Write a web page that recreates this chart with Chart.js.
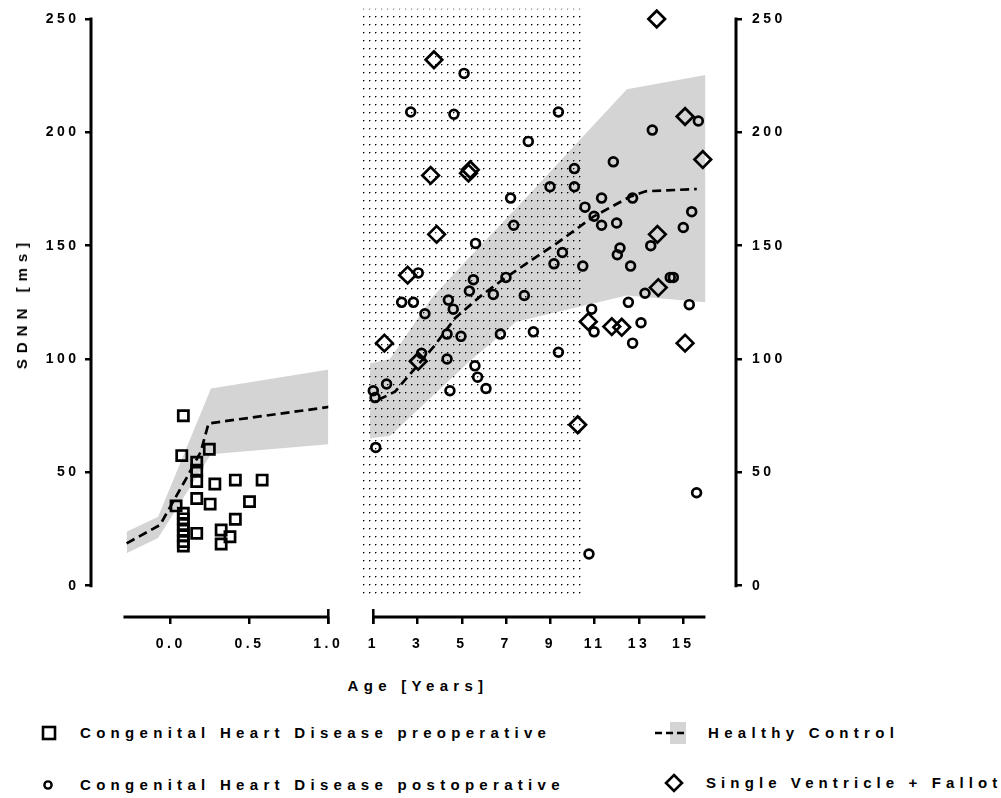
<!DOCTYPE html>
<html lang="en">
<head>
<meta charset="UTF-8">
<title>SDNN by age</title>
<script src="https://cdn.jsdelivr.net/npm/chart.js"></script>
<style>
  body { margin: 0; background: #fff; }
  #page { position: relative; width: 1001px; height: 798px; overflow: hidden;
          font-family: "Liberation Sans", Arial, sans-serif; font-weight: bold; color: #000; }
  .box { position: absolute; top: 0; height: 657px; }
  .txt { position: absolute; font-size: 15px; letter-spacing: 5.3px; white-space: nowrap; line-height: 16px; }
  .mk { position: absolute; }
</style>
</head>
<body>
<div id="page">
  <div class="box" style="left:0;width:380px"><canvas id="infantChart"></canvas></div>
  <div class="box" style="left:345px;width:656px"><canvas id="childChart"></canvas></div>

  <div class="txt" style="left:22px;top:303px;letter-spacing:6px;transform:translate(-50%,-50%) rotate(-90deg)">SDNN [ms]</div>
  <div class="txt" style="left:418px;top:686px;transform:translate(-50%,-50%)">Age [Years]</div>

  <!-- legend -->
  <svg class="mk" style="left:41px;top:725px" width="16" height="16"><rect x="2" y="2" width="12" height="12" fill="none" stroke="#000" stroke-width="2.6"/></svg>
  <div class="txt" style="left:80px;top:725px">Congenital Heart Disease preoperative</div>
  <svg class="mk" style="left:42px;top:779px" width="12" height="12"><circle cx="6" cy="6" r="3.6" fill="none" stroke="#000" stroke-width="2.4"/></svg>
  <div class="txt" style="left:80px;top:777px">Congenital Heart Disease postoperative</div>
  <svg class="mk" style="left:654px;top:721px" width="34" height="24"><rect x="16" y="1" width="16" height="22" fill="#d4d4d4"/><line x1="1" y1="12" x2="32" y2="12" stroke="#000" stroke-width="2.6" stroke-dasharray="7 4"/></svg>
  <div class="txt" style="left:708px;top:725px">Healthy Control</div>
  <svg class="mk" style="left:664px;top:773px" width="20" height="20"><path d="M10 2 L18 10 L10 18 L2 10 Z" fill="none" stroke="#000" stroke-width="2.6"/></svg>
  <div class="txt" style="left:706px;top:775px;letter-spacing:5.1px">Single Ventricle + Fallot</div>
</div>

<script>
// ---- data (age in years, SDNN in ms) ----
const preOpAge  = [0.08, 0.07, 0.165, 0.165, 0.165, 0.245, 0.28, 0.41, 0.58, 0.50, 0.25, 0.165, 0.034,
                   0.08, 0.08, 0.08, 0.08, 0.08, 0.08, 0.08, 0.165, 0.41, 0.32, 0.376, 0.32];
const preOpSdnn = [75, 57.4, 54.5, 51, 46, 60.2, 44.9, 46.6, 46.6, 37.1, 36, 38.5, 35.2,
                   32, 29.5, 27, 24.5, 22, 19.5, 17.5, 23.1, 29.3, 24.6, 21.6, 18.4];

const postOpAge  = [5.10, 2.69, 4.64, 8.00, 9.36, 15.68, 13.60, 11.84, 10.08, 8.98, 10.08, 7.20, 11.31,
                    12.71, 10.56, 10.97, 11.31, 11.99, 7.34, 15.38, 15.00, 13.53, 12.14, 12.02, 12.62,
                    9.54, 9.16, 10.46, 5.62, 14.41, 14.55, 13.27, 12.52, 15.27, 10.86, 10.97, 13.09,
                    12.71, 9.36, 15.60, 10.74, 3.03, 5.52, 5.34, 6.99, 6.42, 7.82, 4.39, 2.28, 2.81,
                    3.33, 4.61, 4.33, 4.96, 6.74, 8.23, 4.33, 5.59, 5.71, 6.09, 4.46, 1.60, 1.00,
                    1.08, 1.11, 3.18];
const postOpSdnn = [226, 209, 208, 196, 209, 205, 201, 187, 184, 176, 176, 171, 171,
                    171, 167, 163, 159, 160, 159, 165, 158, 150, 149, 146, 141,
                    147, 142, 141, 151, 136, 136, 129, 125, 124, 122, 112, 116,
                    107, 103, 41, 14, 138, 135, 130, 136, 128.5, 128, 126, 125, 125,
                    120, 122, 111, 110, 111, 112, 100, 97, 92, 87, 86, 89, 86,
                    83, 61, 102.5];

const svfAge  = [3.74, 3.59, 5.30, 5.38, 3.86, 2.55, 1.50, 3.03, 13.80, 15.08, 15.88, 13.83, 13.87,
                 10.71, 11.77, 12.22, 15.08, 10.23];
const svfSdnn = [232, 181, 182, 183.5, 155, 137, 107, 99, 250, 207, 188, 155, 131.5,
                 116.5, 114.3, 114, 107, 71];

// healthy control: mean (dashed) and range (grey band)
const infantBandAge  = [-0.28, -0.08, 0.255, 1.02];
const infantBandHigh = [23.8, 30.4, 87, 95.6];
const infantBandLow  = [14.3, 21, 58, 62.5];
const infantMeanAge  = [-0.28, -0.068, 0.10, 0.19, 0.24, 1.02];
const infantMeanSdnn = [18.7, 26.8, 47.5, 59, 71.6, 79];

const childBandAge  = [0.85, 1.75, 3.65, 5.35, 7.45, 8.55, 12.45, 16.0];
const childBandHigh = [98, 100, 127, 145, 166.5, 178, 219, 225.3];
const childBandLow  = [65, 66, 83.5, 99, 116.5, 119, 128, 125];
const childMeanAge  = [1.23, 1.98, 3.79, 4.69, 5.9, 7.03, 9.28, 10.94, 12.59, 13.3, 15.61];
const childMeanSdnn = [82, 85.6, 106.2, 118, 128.2, 136.3, 151, 162.8, 171.6, 174, 175];

// dotted age window
const shadedAge  = [0.45, 10.42];
const shadedSdnn = [-4.5, 254.5];

// axes
const sdnnTicks   = [0, 50, 100, 150, 200, 250];
const infantTicks = [0, 0.5, 1.0];
const childTicks  = [1, 3, 5, 7, 9, 11, 13, 15];
const infantAxis  = [-0.3, 1.0];
const childAxis   = [1, 16];

// ---- setup ----
Chart.defaults.font.family = '"Liberation Sans", Arial, sans-serif';
Chart.defaults.font.weight = 'bold';
Chart.defaults.font.size = 14;
Chart.defaults.color = '#000';

const pts = (xs, ys) => xs.map((x, i) => ({ x, y: ys[i] }));
const GREY = 'rgba(0,0,0,0.17)';

function dotPattern() {
    const c = document.createElement('canvas');
    c.width = 6; c.height = 8;
    const g = c.getContext('2d');
    g.fillStyle = '#000';
    g.fillRect(0, 0, 1, 1);
    g.fillStyle = 'rgba(0,0,0,0.4)';
    g.fillRect(1, 0, 1, 1);
    g.fillRect(0, 1, 1, 1);
    return g.createPattern(c, 'repeat');
}

// wide letter spacing as in the original figure
const spacing = {
    id: 'spacing',
    beforeLayout(chart) { chart.ctx.letterSpacing = '3.5px'; },
    beforeDraw(chart) { chart.ctx.letterSpacing = '3.5px'; }
};

// dotted window behind the data
const shaded = {
    id: 'shaded',
    beforeDatasetsDraw(chart, args, opts) {
        if (!opts.on) return;
        const { ctx, scales: { x, y } } = chart;
        const x0 = x.getPixelForValue(shadedAge[0]), x1 = x.getPixelForValue(shadedAge[1]);
        const y0 = y.getPixelForValue(shadedSdnn[1]), y1 = y.getPixelForValue(shadedSdnn[0]);
        ctx.save();
        ctx.fillStyle = dotPattern();
        ctx.fillRect(x0, y0, x1 - x0, y1 - y0);
        ctx.restore();
    }
};

// offset axis lines (GraphPad style)
const axisLines = {
    id: 'axisLines',
    afterDraw(chart, args, opts) {
        const { ctx, chartArea, scales: { x, y } } = chart;
        ctx.save();
        ctx.strokeStyle = '#000';
        ctx.lineWidth = 3;
        const yx = opts.side === 'left' ? chartArea.left : chartArea.right;
        ctx.beginPath();
        ctx.moveTo(yx, y.getPixelForValue(0) + 1.5);
        ctx.lineTo(yx, y.getPixelForValue(250) - 1.5);
        ctx.stroke();
        const b = chartArea.bottom;
        ctx.beginPath();
        ctx.moveTo(x.getPixelForValue(opts.from), b);
        ctx.lineTo(x.getPixelForValue(opts.to), b);
        ctx.stroke();
        ctx.lineWidth = 2.5;
        const cx = x.getPixelForValue(opts.cap);
        ctx.beginPath();
        ctx.moveTo(cx, b - 8);
        ctx.lineTo(cx, b + 7);
        ctx.stroke();
        ctx.restore();
    }
};

function axisX(min, max, ticks, fmt) {
    return {
        type: 'linear', min, max, bounds: 'data',
        afterBuildTicks: s => { s.ticks = ticks.map(v => ({ value: v })); },
        afterFit: s => { s.height = 40; },
        ticks: { callback: fmt, padding: 12, maxRotation: 0, autoSkip: false },
        grid: { drawOnChartArea: false, tickLength: 7, color: '#000', lineWidth: 2.5 },
        border: { display: false }
    };
}

function axisY(position, width) {
    return {
        type: 'linear', min: -13.8, max: 250, position, bounds: 'data',
        afterBuildTicks: s => { s.ticks = sdnnTicks.map(v => ({ value: v })); },
        afterFit: s => { s.width = width; },
        ticks: { padding: position === 'left' ? 5.5 : 10 },
        grid: { drawOnChartArea: false, tickLength: 6, color: '#000', lineWidth: 2.5 },
        border: { display: false }
    };
}

const marker = (style, r) => ({
    pointStyle: style, pointRadius: r, pointHoverRadius: r,
    pointBorderWidth: 2.7, pointBorderColor: '#000',
    pointBackgroundColor: 'rgba(0,0,0,0)', clip: false
});

const band = (xs, hi, lo) => ([
    { data: pts(xs, hi), showLine: true, pointRadius: 0, borderWidth: 0,
      borderColor: 'rgba(0,0,0,0)', backgroundColor: GREY, fill: '+1' },
    { data: pts(xs, lo), showLine: true, pointRadius: 0, borderWidth: 0,
      borderColor: 'rgba(0,0,0,0)', fill: false }
]);

const mean = (xs, ys) => ({
    data: pts(xs, ys), showLine: true, pointRadius: 0, borderWidth: 2.7,
    borderColor: '#000', borderDash: [9, 5], fill: false
});

new Chart(document.getElementById('infantChart'), {
    type: 'scatter',
    data: {
        datasets: [
            { data: pts(preOpAge, preOpSdnn), ...marker('rect', 7.2) },
            mean(infantMeanAge, infantMeanSdnn),
            ...band(infantBandAge, infantBandHigh, infantBandLow)
        ]
    },
    options: {
        responsive: true, maintainAspectRatio: false, animation: false, events: [],
        layout: { padding: { top: 19, right: 51.7, left: 0, bottom: 0 } },
        scales: {
            x: axisX(-0.506, 1.0, infantTicks, v => v.toFixed(1)),
            y: axisY('left', 91)
        },
        plugins: {
            legend: { display: false }, tooltip: { enabled: false },
            axisLines: { side: 'left', from: infantAxis[0], to: infantAxis[1], cap: infantAxis[1] },
            shaded: { on: false }
        }
    },
    plugins: [spacing, shaded, axisLines]
});

new Chart(document.getElementById('childChart'), {
    type: 'scatter',
    data: {
        datasets: [
            { data: pts(svfAge, svfSdnn), ...marker('rectRot', 8.3) },
            { data: pts(postOpAge, postOpSdnn), ...marker('circle', 4.4) },
            mean(childMeanAge, childMeanSdnn),
            ...band(childBandAge, childBandHigh, childBandLow)
        ]
    },
    options: {
        responsive: true, maintainAspectRatio: false, animation: false, events: [],
        layout: { padding: { top: 19, right: 0, left: 12.8, bottom: 0 } },
        scales: {
            x: axisX(0.3, 17.38, childTicks, v => String(v)),
            y: axisY('right', 265)
        },
        plugins: {
            legend: { display: false }, tooltip: { enabled: false },
            axisLines: { side: 'right', from: childAxis[0], to: childAxis[1], cap: childAxis[0] },
            shaded: { on: true }
        }
    },
    plugins: [spacing, shaded, axisLines]
});
</script>
</body>
</html>
